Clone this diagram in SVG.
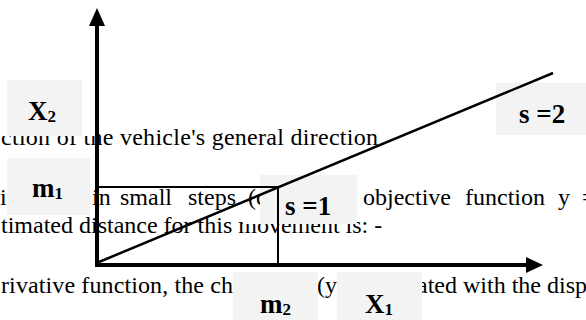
<svg xmlns="http://www.w3.org/2000/svg" width="586" height="320" viewBox="0 0 586 320">
  <style>
    .body { font-family: "Liberation Serif", "Times New Roman", serif; font-size: 24px; fill: #000; }
    .lbl { font-family: "Liberation Serif", "Times New Roman", serif; font-size: 27px; font-weight: bold; fill: #000; }
    .sub { font-size: 17px; }
    .box { fill: #f3f3f3; }
    .axis { stroke: #000; stroke-width: 4; fill: none; }
    .thin { stroke: #000; stroke-width: 2; fill: none; }
  </style>
  <rect width="586" height="320" fill="#fff"/>

  <g id="background-text">
    <text class="body" x="1" y="145" textLength="377" lengthAdjust="spacing">ction of the vehicle's general direction</text>
    <text class="body" x="0" y="205">is</text>
    <text class="body" x="92" y="205">in</text>
    <text class="body" x="120" y="205">small</text>
    <text class="body" x="188" y="205">steps</text>
    <text class="body" x="248" y="205">(c</text>
    <text class="body" x="363" y="205">objective</text>
    <text class="body" x="465" y="205">function</text>
    <text class="body" x="558" y="205">y</text>
    <text class="body" x="582" y="205">=</text>
    <text class="body" x="1" y="233">timated distance for this movement is: -</text>
    <text class="body" x="1" y="293" textLength="232" lengthAdjust="spacing">rivative function, the ch</text>
    <text class="body" x="317" y="293">(y</text>
    <text class="body" x="417" y="293">ated with the disp</text>
  </g>

  <g id="masks">
    <rect x="0" y="120" width="95" height="16" fill="#fff"/>
    <rect x="243" y="214" width="20" height="10" fill="#fff"/>
  </g>

  <g id="label-boxes">
    <rect class="box" x="7" y="80" width="75" height="56"/>
    <rect class="box" x="496" y="83" width="90" height="52"/>
    <rect class="box" x="7" y="158" width="83" height="57"/>
    <rect class="box" x="260" y="175" width="97" height="49"/>
    <rect class="box" x="233" y="272" width="85" height="48"/>
    <rect class="box" x="337" y="272" width="85" height="48"/>
  </g>

  <g id="connectors">
    <line class="axis" x1="97" y1="267" x2="97" y2="24"/>
    <polygon points="97,8 89,26 105,26" fill="#000"/>
    <line class="axis" x1="95" y1="265" x2="528" y2="265"/>
    <polygon points="543,265 526,257 526,273" fill="#000"/>
    <line class="thin" x1="97" y1="187" x2="278" y2="187"/>
    <line class="thin" x1="278" y1="187" x2="278" y2="265"/>
    <line x1="99" y1="262" x2="553" y2="73" stroke="#000" stroke-width="2.5"/>
  </g>

  <g id="label-X2"><text class="lbl" x="28" y="120">X<tspan class="sub" dy="2">2</tspan></text></g>
  <g id="label-s2"><text class="lbl" x="519" y="123">s =2</text></g>
  <g id="label-m1"><text class="lbl" x="32" y="197">m<tspan class="sub" dy="2">1</tspan></text></g>
  <g id="label-s1"><text class="lbl" x="285" y="215">s =1</text></g>
  <g id="label-m2"><text class="lbl" x="260" y="313">m<tspan class="sub" dy="2">2</tspan></text></g>
  <g id="label-X1"><text class="lbl" x="365" y="313">X<tspan class="sub" dy="2">1</tspan></text></g>
</svg>
